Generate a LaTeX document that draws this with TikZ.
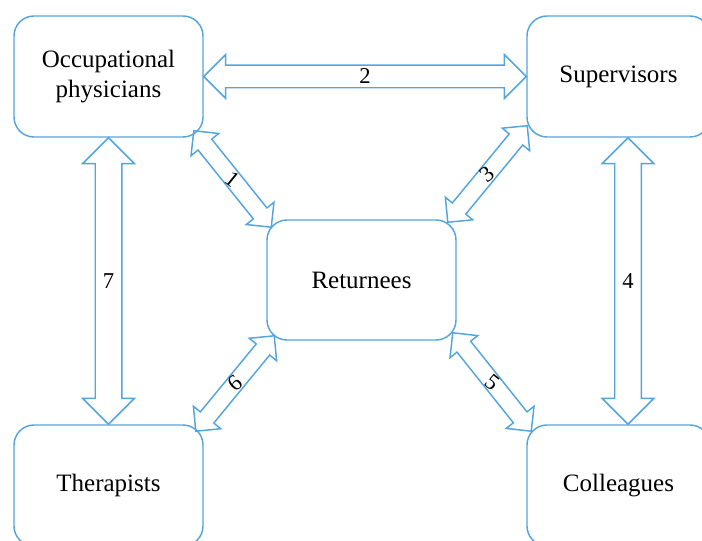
\documentclass[tikz,border=0pt]{standalone}
\usepackage{fontspec}
\setmainfont{Liberation Serif}
\usetikzlibrary{shapes.arrows,calc}
\definecolor{linkblue}{RGB}{84,165,222}

\tikzset{
  party/.style={draw=linkblue, line width=1.1pt, rounded corners=15pt, minimum width=141.75pt, minimum height=90.75pt, align=center, font=\fontsize{18.75}{22.5}\selectfont},
  link/.style={draw=linkblue, line width=1.1pt, double arrow, double arrow tip angle=90, inner xsep=0pt, inner ysep=6pt, double arrow head extend=6.75pt, minimum width=0pt},
  widelink/.style={inner ysep=7.9pt, double arrow head extend=7.9pt},
  talllink/.style={inner ysep=9.4pt, double arrow head extend=9.4pt},
  num/.style={inner sep=0pt, font=\fontsize{17}{20}\selectfont}
}

% two-way arrow between two points, with its number in the middle
\newcommand{\twoway}[5][]{%
  \path let \p1=#2, \p2=#3,
        \n1={atan2(\y2-\y1,\x2-\x1)}, \n2={veclen(\x2-\x1,\y2-\y1)} in
    node[link, #1, minimum height=\n2, rotate=-\n1] (arrow#4) at ($(\p1)!0.5!(\p2)$) {}
    node[num, rotate=#5] (num#4) at ($(\p1)!0.5!(\p2)$) {#4};
}

\begin{document}
\begin{tikzpicture}[x=0.75pt,y=0.75pt,yscale=-1,xscale=1]
    \useasboundingbox (0,0) rectangle (702,541);

    % Boxes
    \node[party] (op) at (108.5,76.5) {Occupational\\physicians};
    \node[party, minimum width=137.25pt] (sup) at (618.5,76.5) {Supervisors};
    \node[party, minimum height=90pt] (ret) at (361.5,280) {Returnees};
    \node[party] (th) at (108.5,485.5) {Therapists};
    \node[party, minimum width=137.25pt] (col) at (618.5,485.5) {Colleagues};

    % Arrows
    \twoway[widelink]{(op.east)}{(sup.west)}{2}{0}
    \twoway[talllink]{(op.south)}{(th.north)}{7}{0}
    \twoway[talllink]{($(sup.south)+(9.5,0)$)}{($(col.north)+(9.5,0)$)}{4}{0}
    \twoway{($(op.south east)+(-10,-7)$)}{($(ret.north west)+(5,8)$)}{1}{-39}
    \twoway{($(sup.south west)+(1,-12)$)}{($(ret.north east)+(-9,3)$)}{3}{40}
    \twoway{($(ret.south west)+(8,-5)$)}{($(th.north east)+(-8,7)$)}{6}{40}
    \twoway{($(ret.south east)+(-4,-8)$)}{($(col.north west)+(5,7)$)}{5}{-39}

\end{tikzpicture}
\end{document}
